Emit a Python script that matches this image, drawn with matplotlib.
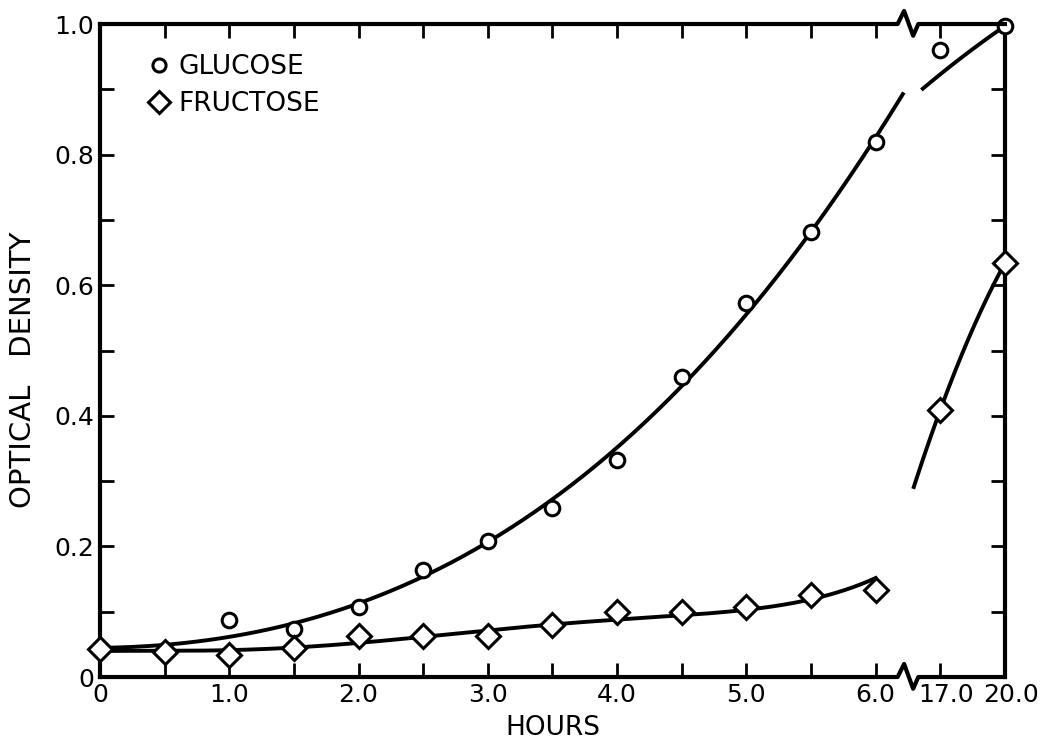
import numpy as np
import matplotlib
matplotlib.use("Agg")
import matplotlib.pyplot as plt
import matplotlib.transforms as mtransforms

# measured data (hours, optical density)
hours_early = [0, 0.5, 1.0, 1.5, 2.0, 2.5, 3.0, 3.5, 4.0, 4.5, 5.0, 5.5, 6.0]
hours_late = [17.0, 20.0]
glucose_early = [0.043, 0.038, 0.087, 0.074, 0.107, 0.164, 0.208, 0.259, 0.332, 0.459, 0.573, 0.681, 0.819]
glucose_late = [0.960, 0.997]
fructose_early = [0.043, 0.038, 0.034, 0.044, 0.063, 0.063, 0.063, 0.080, 0.100, 0.100, 0.107, 0.126, 0.133]
fructose_late = [0.409, 0.634]

# hand-drawn curves, points
fructose_curve_h = [0, 1.0, 2.0, 3.0, 4.0, 5.0, 5.5, 6.0]
fructose_curve_od = [0.040, 0.040, 0.055, 0.068, 0.090, 0.103, 0.118, 0.152]
glucose_tail_h = [16.19, 18.04, 20.0]
glucose_tail_od = [0.901, 0.950, 0.997]
fructose_tail_h = [15.77, 17.0, 20.0]
fructose_tail_od = [0.291, 0.409, 0.634]

tick_hours = [0, 0.5, 1.0, 1.5, 2.0, 2.5, 3.0, 3.5, 4.0, 4.5, 5.0, 5.5, 6.0, 17.0, 20.0]
tick_text = ['0', '', '1.0', '', '2.0', '', '3.0', '', '4.0', '', '5.0', '', '6.0', '17.0', '20.0']


def to_pos(h):
    # broken axis: 0-6 h linear, then 17-20 h squeezed in after the break
    h = np.asarray(h, dtype=float)
    return np.where(h <= 6.0, h, 6.5 + (h - 17.0) / 6.0)


fig = plt.figure(figsize=(10.49, 7.48), dpi=100)
ax = fig.add_axes([0.0953, 0.0949, 0.8627, 0.8730])

lw = 2.8
# fitted curves, first part
xe = to_pos(hours_early)
cg = np.polyfit(xe, glucose_early, 3)
xx = np.linspace(0, 6.21, 200)
ax.plot(xx, np.polyval(cg, xx), color='black', lw=lw, zorder=2)
cf = np.polyfit(fructose_curve_h, fructose_curve_od, 5)
xx = np.linspace(0, 6.0, 200)
ax.plot(xx, np.polyval(cf, xx), color='black', lw=lw, zorder=2)

# curves after the break
for th, tod in [(glucose_tail_h, glucose_tail_od), (fructose_tail_h, fructose_tail_od)]:
    tp = to_pos(th)
    c = np.polyfit(tp, tod, 2)
    xx = np.linspace(tp[0], tp[-1], 100)
    ax.plot(xx, np.polyval(c, xx), color='black', lw=lw, zorder=2, clip_on=False)

# markers
xs = to_pos(hours_early + hours_late)
ax.plot(xs, glucose_early + glucose_late, 'o', ms=10.5, mfc='white', mec='black', mew=2.2,
        ls='none', label='GLUCOSE', zorder=3, clip_on=False)
ax.plot(xs, fructose_early + fructose_late, 'D', ms=12, mfc='white', mec='black', mew=2.2,
        ls='none', label='FRUCTOSE', zorder=3, clip_on=False)

ax.set_xlim(0, 7.0)
ax.set_ylim(0, 1.0)
ax.set_xticks(to_pos(tick_hours))
ax.set_xticklabels(tick_text)
ax.set_yticks(np.arange(0, 1.01, 0.1))
ax.set_yticklabels(['0', '', '0.2', '', '0.4', '', '0.6', '', '0.8', '', '1.0'])
ax.tick_params(direction='in', length=10, width=2, labelsize=18, top=True, right=True, pad=4)
lbls = ax.get_xticklabels()
lbls[-2].set_transform(lbls[-2].get_transform() + mtransforms.ScaledTranslation(0.06, 0, fig.dpi_scale_trans))
lbls[-1].set_horizontalalignment('left')
lbls[-1].set_transform(lbls[-1].get_transform() + mtransforms.ScaledTranslation(-0.22, 0, fig.dpi_scale_trans))

for s in ['left', 'right']:
    ax.spines[s].set_linewidth(3)
ax.spines['top'].set_visible(False)
ax.spines['bottom'].set_visible(False)

# top and bottom axis lines with break marks
trans = mtransforms.blended_transform_factory(ax.transData, ax.transAxes)
for y0 in [1.0, 0.0]:
    zx = [0, 6.17, 6.22, 6.29, 6.33, 7.0]
    zy = [y0, y0, y0 + 0.02, y0 - 0.018, y0, y0]
    ax.plot(zx, zy, color='black', lw=3, transform=trans, clip_on=False, zorder=4)

ax.set_xlabel('HOURS', fontsize=19, labelpad=6)
ax.set_ylabel('OPTICAL   DENSITY', fontsize=21)
ax.yaxis.set_label_coords(-0.07, 0.47)

ax.legend(loc='upper left', bbox_to_anchor=(0.03, 0.99), frameon=False, fontsize=19,
          handlelength=0.6, handletextpad=0.45, labelspacing=0.4, markerscale=0.9)

fig.savefig('out.png', dpi=100)
